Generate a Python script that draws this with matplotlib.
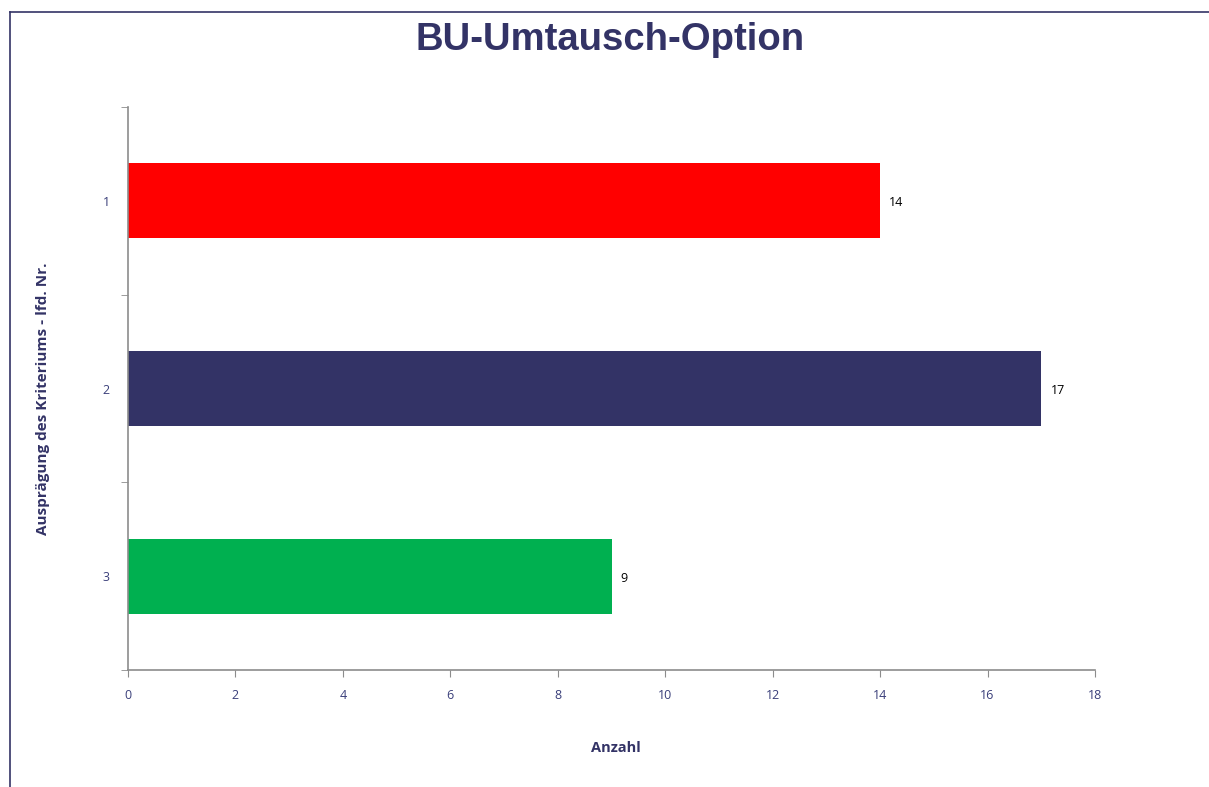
import matplotlib
matplotlib.use("Agg")
import matplotlib.pyplot as plt
from matplotlib.lines import Line2D

categories = ["1", "2", "3"]
values = [14, 17, 9]
colors = ["#FF0000", "#333366", "#00B050"]
xticks = [0, 2, 4, 6, 8, 10, 12, 14, 16, 18]

navy = "#333366"
tickcol = "#3A3F7A"

fig = plt.figure(figsize=(12.09, 7.87), dpi=100)
ax = fig.add_axes([128/1209, 1-670/787, (1095-128)/1209, (670-107)/787])

ypos = list(range(1, len(categories)+1))
bars = ax.barh(ypos, values, height=0.4, color=colors)
ax.set_ylim(3.5, 0.5)
ax.set_xlim(0, 18)
ax.set_xticks(xticks)
ax.set_xticklabels([str(t) for t in xticks])
ax.set_yticks(ypos)
ax.set_yticklabels(categories)
ax.set_yticks([0.5, 1.5, 2.5, 3.5], minor=True)

for s in ["top", "right"]:
    ax.spines[s].set_visible(False)
for s in ["left", "bottom"]:
    ax.spines[s].set_color("#8C8C8C")
    ax.spines[s].set_linewidth(1.2)

ax.tick_params(axis="y", which="major", length=0, pad=13, labelsize=9, labelcolor=tickcol)
ax.tick_params(axis="y", which="minor", length=5, color="#8C8C8C", direction="out")
ax.tick_params(axis="x", which="major", length=5, color="#8C8C8C", direction="out",
               pad=9, labelsize=9, labelcolor=tickcol)
for lab in ax.get_xticklabels() + ax.get_yticklabels():
    lab.set_fontfamily("Open Sans")

for b, v in zip(bars, values):
    ax.text(b.get_width() + 0.17, b.get_y() + b.get_height()/2 + 0.01, str(v),
            ha="left", va="center", fontsize=9, color="black", family="Open Sans")

fig.text(616/1209, 1-748/787, "Anzahl", ha="center", va="center",
         fontsize=10.5, fontweight="bold", color=navy, family="Open Sans")
fig.text(43/1209, 1-399/787, "Ausprägung des Kriteriums - lfd. Nr.", ha="center", va="center",
         rotation=90, fontsize=11, fontweight="bold", color=navy, family="Open Sans")
fig.text(610/1209, 1-50/787, "BU-Umtausch-Option", ha="center", va="baseline",
         fontsize=27.5, fontweight="bold", color=navy, family="Liberation Sans")

# frame lines (top and left)
fig.add_artist(Line2D([9.5/1209, 1], [1-11.5/787, 1-11.5/787], color=navy, lw=1.2,
                      transform=fig.transFigure))
fig.add_artist(Line2D([9.5/1209, 9.5/1209], [0, 1-11.5/787], color=navy, lw=1.2,
                      transform=fig.transFigure))

fig.savefig("out.png", dpi=100)
